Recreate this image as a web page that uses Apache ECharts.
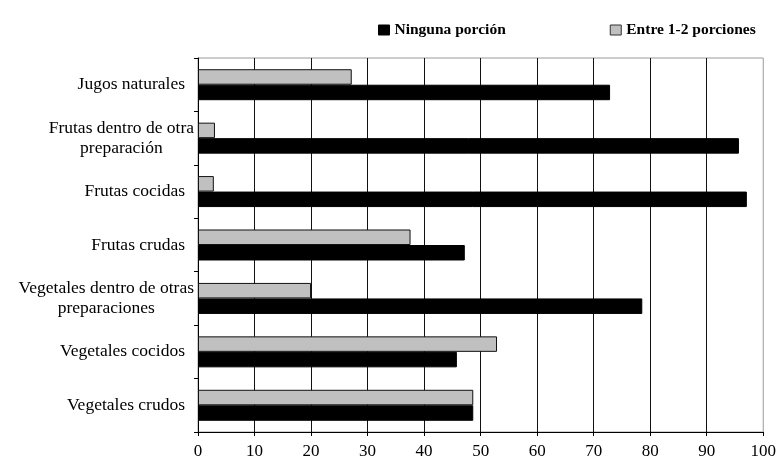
<!DOCTYPE html>
<html>
<head>
<meta charset="utf-8">
<script src="https://cdn.jsdelivr.net/npm/echarts@6/dist/echarts.min.js"></script>
<style>
  html, body { margin: 0; padding: 0; background: #fff; }
  #chart { width: 779px; height: 461px; }
</style>
</head>
<body>
<div id="chart"></div>
<script>
// Food groups, listed bottom to top along the category axis
const categories = [
  'Vegetales crudos',
  'Vegetales cocidos',
  'Vegetales dentro de otras\npreparaciones',
  'Frutas crudas',
  'Frutas cocidas',
  'Frutas dentro de otra\npreparación',
  'Jugos naturales'
];

const seriesNames = ['Ninguna porción', 'Entre 1-2 porciones'];

// Percent of respondents per group
const ningunaPorcion = [48.7, 45.8, 78.6, 47.2, 97.1, 95.7, 72.9];
const entre12Porciones = [48.7, 52.9, 20.0, 37.6, 2.8, 3.0, 27.2];

const xTicks = { min: 0, max: 100, interval: 10 };

const serif = '"Liberation Serif", "DejaVu Serif", serif';

const chart = echarts.init(document.getElementById('chart'), null, { renderer: 'canvas' });

chart.setOption({
  animation: false,
  backgroundColor: '#ffffff',
  textStyle: { fontFamily: serif, color: '#000' },
  legend: {
    top: 17,
    left: 373,
    itemWidth: 11,
    itemHeight: 10,
    itemGap: 104,
    icon: 'rect',
    textStyle: { fontFamily: serif, fontSize: 15.5, fontWeight: 'bold', color: '#000' },
    data: [
      { name: seriesNames[0], itemStyle: { color: '#000', borderColor: '#000', borderWidth: 1 } },
      { name: seriesNames[1], itemStyle: { color: '#c0c0c0', borderColor: '#333', borderWidth: 1 } }
    ]
  },
  grid: {
    left: 198,
    right: 10.5,
    top: 58,
    bottom: 29,
    show: true,
    borderColor: '#9a9a9a',
    borderWidth: 1,
    containLabel: false
  },
  xAxis: {
    type: 'value',
    min: xTicks.min,
    max: xTicks.max,
    interval: xTicks.interval,
    axisLine: { show: true, lineStyle: { color: '#000', width: 1 } },
    axisTick: { show: true, length: 4, lineStyle: { color: '#000' } },
    axisLabel: { fontFamily: serif, fontSize: 17, color: '#000', margin: 11 },
    splitLine: { show: true, showMinLine: false, showMaxLine: false, lineStyle: { color: '#111', width: 1 } }
  },
  yAxis: {
    type: 'category',
    data: categories,
    axisLine: { show: true, lineStyle: { color: '#000', width: 1 } },
    axisTick: { show: true, length: 4, alignWithLabel: false, lineStyle: { color: '#000' } },
    axisLabel: {
      fontFamily: serif,
      fontSize: 17.5,
      color: '#000',
      margin: 4,
      lineHeight: 20,
      formatter: function (v) {
        const lines = v.split('\n');
        const style = lines.length > 1 ? 'c' : 's';
        return lines.map(function (s) { return '{' + style + '|' + s + '}'; }).join('\n');
      },
      rich: {
        c: { align: 'center', fontFamily: serif, fontSize: 17.5, lineHeight: 20, color: '#000' },
        s: { align: 'center', fontFamily: serif, fontSize: 17.5, lineHeight: 20, color: '#000', padding: [0, 9, 0, 0] }
      }
    },
    splitLine: { show: false }
  },
  series: [
    {
      name: seriesNames[1],
      type: 'bar',
      data: entre12Porciones,
      barGap: '0%',
      barCategoryGap: '42%',
      itemStyle: { color: '#c0c0c0', borderColor: '#111', borderWidth: 1 }
    },
    {
      name: seriesNames[0],
      type: 'bar',
      data: ningunaPorcion,
      barGap: '0%',
      barCategoryGap: '42%',
      itemStyle: { color: '#000', borderColor: '#000', borderWidth: 1 }
    }
  ]
});
</script>
</body>
</html>
